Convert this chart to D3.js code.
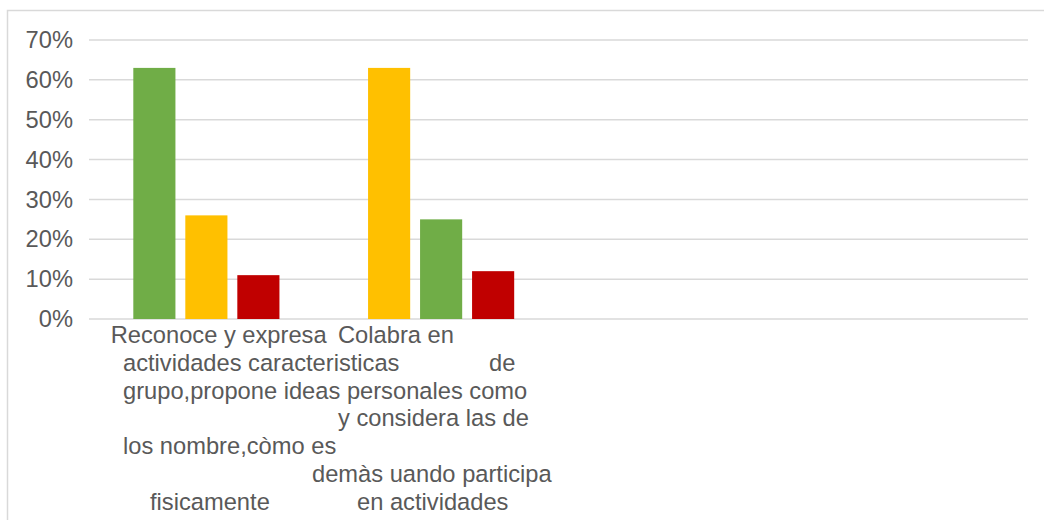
<!DOCTYPE html>
<html>
<head>
<meta charset="utf-8">
<script src="https://cdn.jsdelivr.net/npm/d3@7"></script>
<style>
  html, body { margin: 0; padding: 0; background: #fff; }
  svg { display: block; }
  text { font-family: "Liberation Sans", Arial, sans-serif; fill: #595959; }
</style>
</head>
<body>
<svg id="chart" width="1044" height="520"></svg>
<script>
// ---- data ----
const categories = [
  "Reconoce y expresa caracteristicas personales de los nombre,còmo es fisicamente",
  "Colabra en actividades de grupo,propone ideas y considera las de demàs uando participa en actividades",
  " ",
  "  "
];
const seriesNames = ["Serie 1", "Serie 2", "Serie 3"];
const serie1 = [0.63, 0.63, null, null];
const serie2 = [0.26, 0.25, null, null];
const serie3 = [0.11, 0.12, null, null];
const serie1Colors = ["#70ad47", "#ffc000"];
const serie2Colors = ["#ffc000", "#70ad47"];
const serie3Colors = ["#c00000", "#c00000"];
const yTicks = [0, 0.1, 0.2, 0.3, 0.4, 0.5, 0.6, 0.7];
// category label text as it appears (wrapped and overlapping)
const labelFragments = [
  "Reconoce y expresa", "Colabra en",
  "actividades caracteristicas", "de",
  "grupo,propone ideas personales como",
  "y considera las de",
  "los nombre,còmo es",
  "demàs uando participa",
  "fisicamente", "en actividades"
];

// ---- layout ----
const W = 1044, H = 520;
const plot = { left: 89, right: 1028, top: 40, bottom: 319 };
const fontSize = 23.7;
const lineH = 27.8;
const firstBaseline = 343;
// [line index, x offset from first category band start]
const fragmentPos = [
  [0, 21.7], [0, 249],
  [1, 34], [1, 400],
  [2, 34],
  [3, 249],
  [4, 34],
  [5, 223],
  [6, 61], [6, 268]
];

const svg = d3.select("#chart");

svg.append("rect")
  .attr("x", 7.5).attr("y", 10.5)
  .attr("width", W + 10).attr("height", H + 10)
  .attr("fill", "#fff").attr("stroke", "#d9d9d9").attr("stroke-width", 1.5);

const x0 = d3.scaleBand().domain(categories).range([plot.left, plot.right]).paddingInner(0).paddingOuter(0);
const x1 = d3.scaleBand().domain(seriesNames).range([0, x0.bandwidth()]).paddingInner(0.19).paddingOuter(0.852);
const y = d3.scaleLinear().domain([0, 0.7]).range([plot.bottom, plot.top]);

// gridlines
svg.append("g")
  .selectAll("line").data(yTicks).join("line")
  .attr("x1", plot.left).attr("x2", plot.right)
  .attr("y1", d => y(d)).attr("y2", d => y(d))
  .attr("stroke", "#d9d9d9").attr("stroke-width", 1.5);

// y axis labels
const yAxis = d3.axisLeft(y).tickValues(yTicks).tickFormat(d3.format(".0%")).tickSize(0).tickPadding(16);
const gy = svg.append("g").attr("transform", `translate(${plot.left},0)`).call(yAxis);
gy.select(".domain").remove();
gy.selectAll("text")
  .style("font-family", '"Liberation Sans", Arial, sans-serif')
  .style("font-size", fontSize + "px")
  .attr("fill", "#595959");

// bars
const seriesData = [
  { name: seriesNames[0], values: serie1, colors: serie1Colors },
  { name: seriesNames[1], values: serie2, colors: serie2Colors },
  { name: seriesNames[2], values: serie3, colors: serie3Colors }
];
const bars = [];
seriesData.forEach(s => {
  s.values.forEach((v, i) => {
    if (v != null) bars.push({ cat: categories[i], series: s.name, value: v, color: s.colors[i] });
  });
});
svg.append("g")
  .selectAll("rect").data(bars).join("rect")
  .attr("x", d => x0(d.cat) + x1(d.series))
  .attr("width", x1.bandwidth())
  .attr("y", d => y(d.value))
  .attr("height", d => y(0) - y(d.value))
  .attr("fill", d => d.color);

// category labels
const base = x0(categories[0]);
svg.append("g")
  .selectAll("text").data(labelFragments).join("text")
  .attr("x", (d, i) => base + fragmentPos[i][1])
  .attr("y", (d, i) => firstBaseline + fragmentPos[i][0] * lineH)
  .attr("font-size", fontSize)
  .text(d => d);
</script>
</body>
</html>
